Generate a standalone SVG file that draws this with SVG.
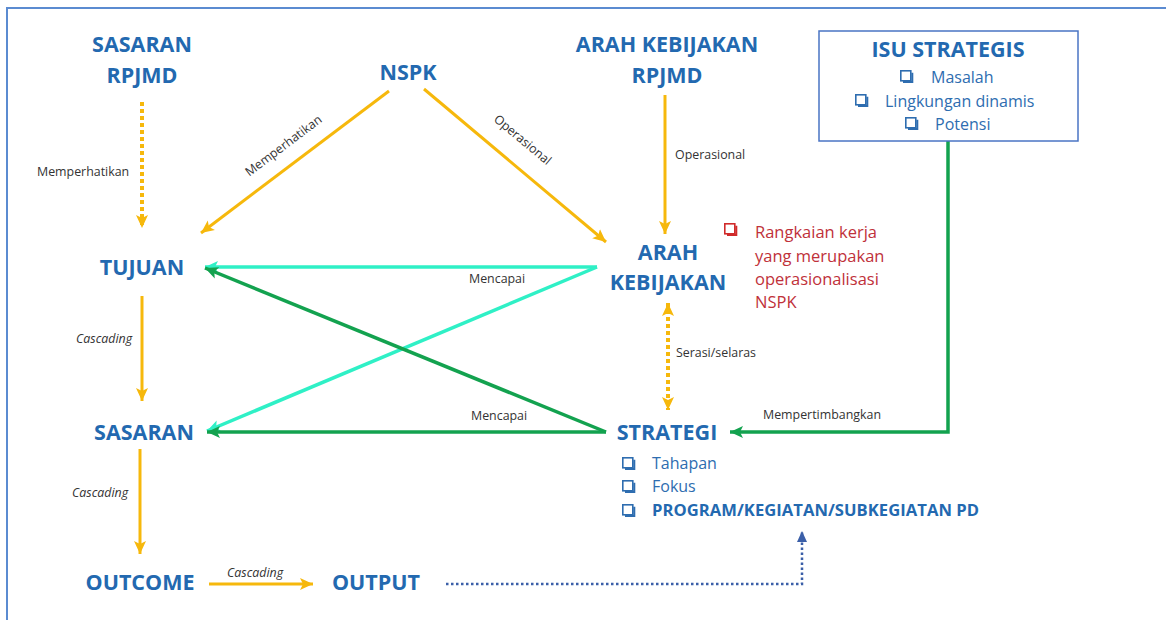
<svg xmlns="http://www.w3.org/2000/svg" width="1166" height="620" viewBox="0 0 1166 620">
<style>
.t{font-family:"Open Sans","Noto Sans",sans-serif;font-weight:700;font-size:21.5px;fill:#2369b0;text-anchor:middle}
.lbl{font-family:"Open Sans","Noto Sans",sans-serif;font-size:12.4px;fill:#333}
.it{font-style:italic}
.item{font-family:"Open Sans","Noto Sans",sans-serif;font-size:16px;fill:#2e6db0}
.prog{font-family:"Open Sans","Noto Sans",sans-serif;font-size:16.6px;font-weight:700;fill:#2369b0}
.red{font-family:"Open Sans","Noto Sans",sans-serif;font-size:16.5px;fill:#c0313a}
.y{fill:none;stroke:#f6b80c;stroke-width:3}
.yd{fill:none;stroke:#f6b80c;stroke-width:4;stroke-dasharray:4 3}
.cy{fill:none;stroke:#2ff0c6;stroke-width:3.5}
.gr{fill:none;stroke:#13a24f;stroke-width:3.5}
.bd{fill:none;stroke:#3b5fa8;stroke-width:2.5;stroke-dasharray:2.5 2.5}
</style>
<defs>
<marker id="ay" markerUnits="userSpaceOnUse" markerWidth="14" markerHeight="14" refX="13" refY="7" orient="auto-start-reverse"><path d="M0,1 L13,7 L0,13 L3,7 z" fill="#f6b80c"/></marker>
<marker id="ac" markerUnits="userSpaceOnUse" markerWidth="14" markerHeight="14" refX="13" refY="7" orient="auto"><path d="M0,1 L13,7 L0,13 L3,7 z" fill="#2ff0c6"/></marker>
<marker id="ag" markerUnits="userSpaceOnUse" markerWidth="14" markerHeight="14" refX="13" refY="7" orient="auto"><path d="M0,1 L13,7 L0,13 L3,7 z" fill="#13a24f"/></marker>
<marker id="ab" markerUnits="userSpaceOnUse" markerWidth="12" markerHeight="12" refX="11" refY="6" orient="auto"><path d="M0,1 L11,6 L0,11 z" fill="#3b5fa8"/></marker>
<g id="cbB"><rect x="0.8" y="0.8" width="10" height="10" fill="none" stroke="#2e6db0" stroke-width="1.6"/><path d="M3,12 H12.3 V2.7" fill="none" stroke="#2e6db0" stroke-width="2"/></g>
<g id="cbR"><rect x="0.8" y="0.8" width="10" height="10" fill="none" stroke="#d02a2a" stroke-width="1.6"/><path d="M3,12 H12.3 V2.7" fill="none" stroke="#d02a2a" stroke-width="2"/></g>
</defs>
<rect width="1166" height="620" fill="#fff"/>
<path d="M7,620 V8 H1166" fill="none" stroke="#5b8bd1" stroke-width="2"/>

<g id="connectors">
<path class="yd" d="M142,102 V228" marker-end="url(#ay)"/>
<text class="lbl" x="37" y="176">Memperhatikan</text>
<path class="y" d="M389,91 L201,233" marker-end="url(#ay)"/>
<text class="lbl" transform="translate(286,149) rotate(-37)" text-anchor="middle">Memperhatikan</text>
<path class="y" d="M424,89 L606,242" marker-end="url(#ay)"/>
<text class="lbl" transform="translate(520,143) rotate(40)" text-anchor="middle">Operasional</text>
<path class="y" d="M665,95 V234" marker-end="url(#ay)"/>
<text class="lbl" x="675" y="159">Operasional</text>
<path class="cy" d="M597,267 H205" marker-end="url(#ac)"/>
<path class="cy" d="M597,267 L207,431" marker-end="url(#ac)"/>
<text class="lbl" x="469" y="283">Mencapai</text>
<path class="gr" d="M606,432 L205,268" marker-end="url(#ag)"/>
<path class="gr" d="M606,432 H207" marker-end="url(#ag)"/>
<text class="lbl" x="471" y="420">Mencapai</text>
<path class="yd" d="M668,303 V410" marker-start="url(#ay)" marker-end="url(#ay)"/>
<text class="lbl" x="676" y="357">Serasi/selaras</text>
<path class="gr" d="M948,141 V432 H730" marker-end="url(#ag)" stroke="#12b050"/>
<text class="lbl" x="763" y="419">Mempertimbangkan</text>
<path class="y" d="M142,296 V401" marker-end="url(#ay)"/>
<text class="lbl it" x="76" y="343">Cascading</text>
<path class="y" d="M140,449 V554" marker-end="url(#ay)"/>
<text class="lbl it" x="72" y="497">Cascading</text>
<path class="y" d="M209,584 H313" marker-end="url(#ay)"/>
<text class="lbl it" x="227" y="577">Cascading</text>
<path class="bd" d="M446,584 H802 V531" marker-end="url(#ab)"/>
</g>

<g id="sasaran-rpjmd"><text class="t" x="142" y="52">SASARAN</text><text class="t" x="142" y="83">RPJMD</text></g>
<g id="nspk"><text class="t" x="408" y="80">NSPK</text></g>
<g id="arah-kebijakan-rpjmd"><text class="t" x="667" y="52">ARAH KEBIJAKAN</text><text class="t" x="667" y="83">RPJMD</text></g>
<g id="isu-strategis">
<rect x="819" y="31" width="259" height="110" fill="#fff" stroke="#4a74c4" stroke-width="1.5"/>
<text class="t" x="948" y="57">ISU STRATEGIS</text>
<use href="#cbB" x="900" y="70"/><text class="item" x="931" y="83">Masalah</text>
<use href="#cbB" x="855" y="94"/><text class="item" x="885" y="107">Lingkungan dinamis</text>
<use href="#cbB" x="905" y="117"/><text class="item" x="935" y="130">Potensi</text>
</g>
<g id="arah-kebijakan"><text class="t" x="668" y="260">ARAH</text><text class="t" x="668" y="290">KEBIJAKAN</text></g>
<g id="rangkaian-note">
<use href="#cbR" x="724" y="223"/>
<text class="red" x="755" y="238">Rangkaian kerja</text>
<text class="red" x="755" y="262">yang merupakan</text>
<text class="red" x="755" y="285">operasionalisasi</text>
<text class="red" x="755" y="308">NSPK</text>
</g>
<g id="tujuan"><text class="t" x="142" y="275">TUJUAN</text></g>
<g id="sasaran"><text class="t" x="144" y="440">SASARAN</text></g>
<g id="strategi">
<text class="t" x="667" y="440">STRATEGI</text>
<use href="#cbB" x="622" y="457"/><text class="item" x="652" y="469">Tahapan</text>
<use href="#cbB" x="622" y="480"/><text class="item" x="652" y="492">Fokus</text>
<use href="#cbB" x="622" y="504"/><text class="prog" x="652" y="516" textLength="327" lengthAdjust="spacing">PROGRAM/KEGIATAN/SUBKEGIATAN PD</text>
</g>
<g id="outcome"><text class="t" x="140" y="590">OUTCOME</text></g>
<g id="output"><text class="t" x="376" y="590">OUTPUT</text></g>
</svg>
